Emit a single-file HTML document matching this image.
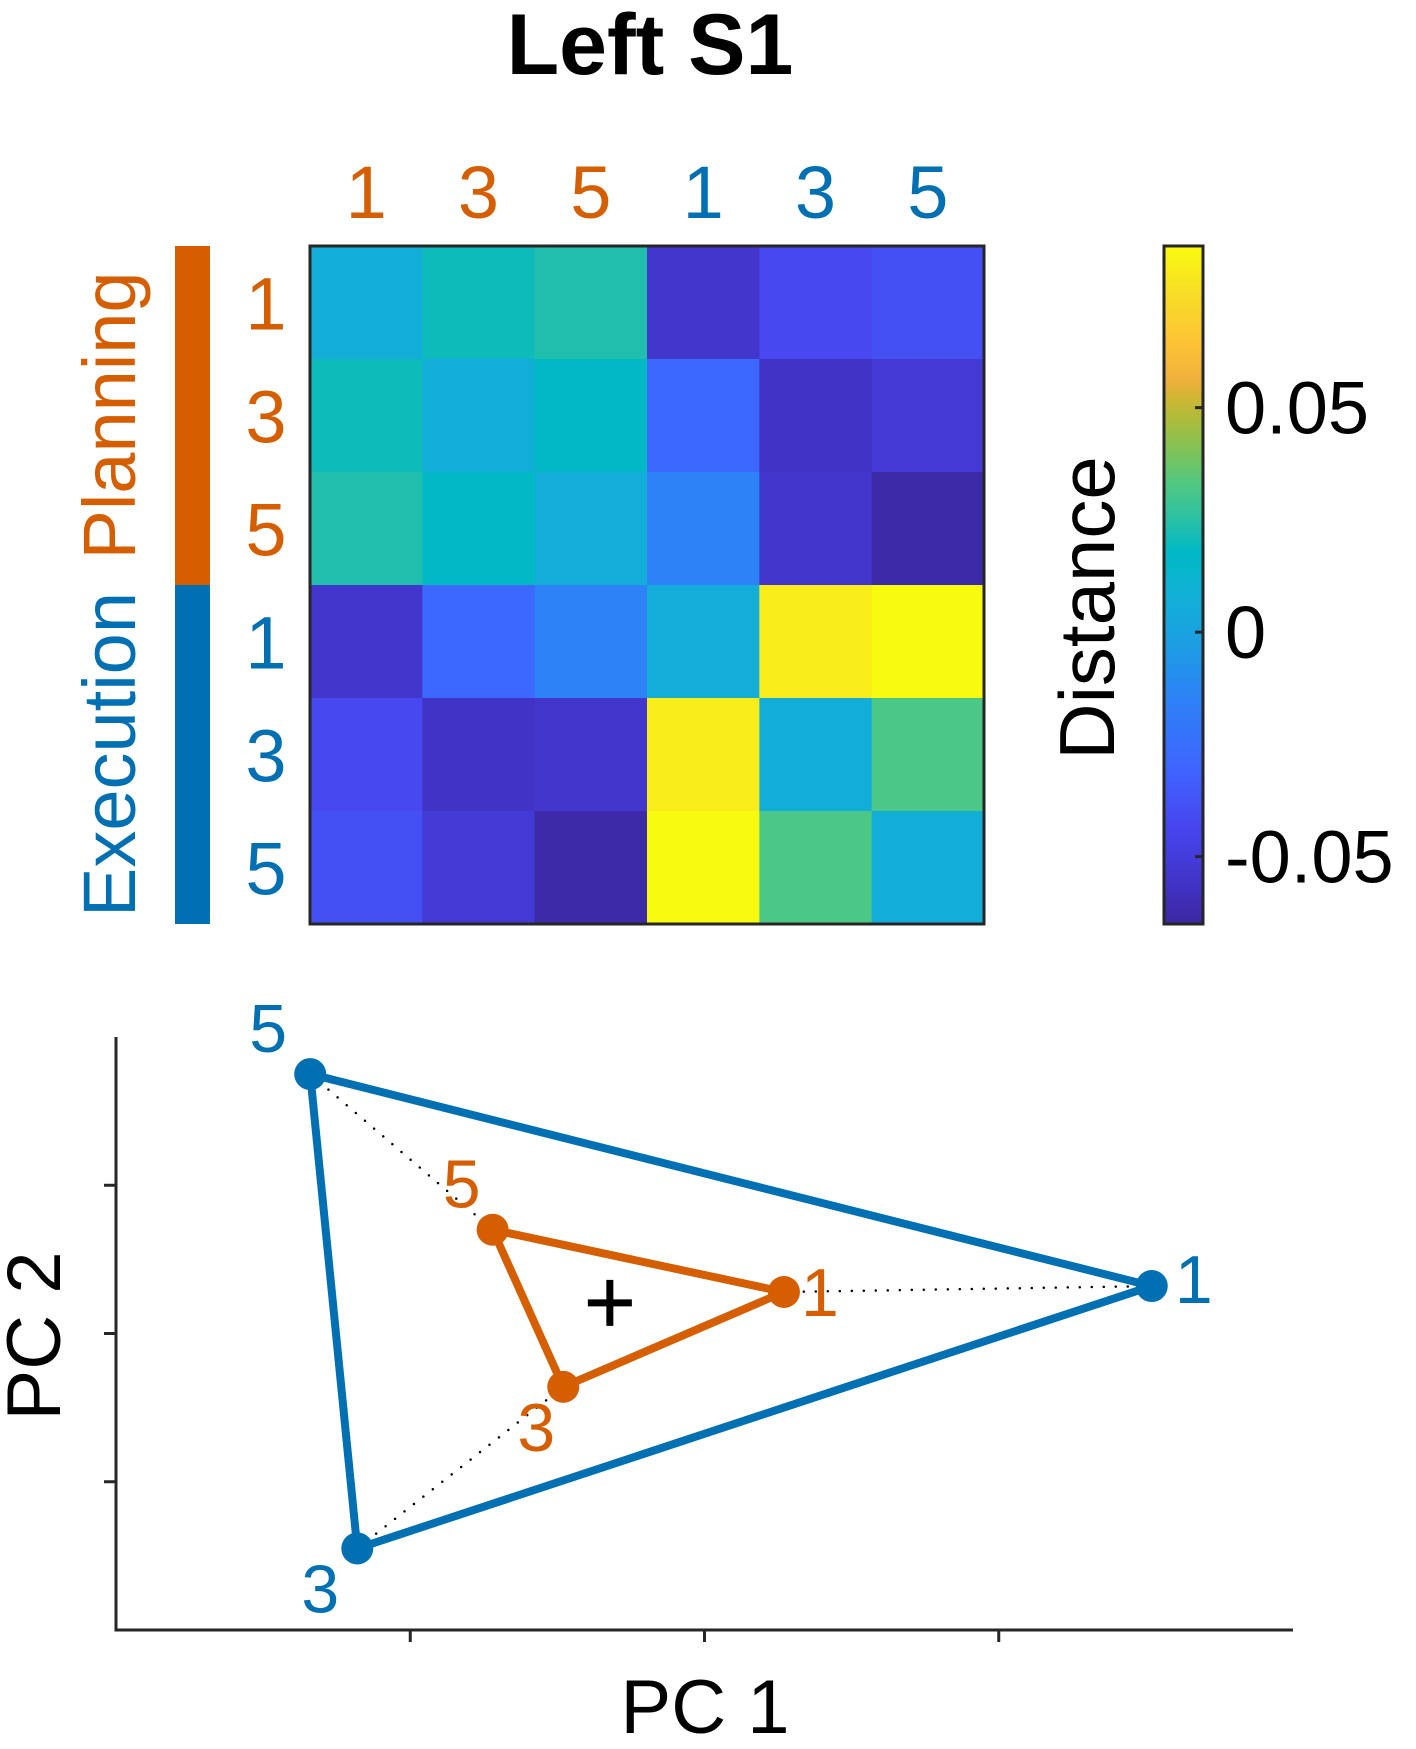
<!DOCTYPE html>
<html><head><meta charset="utf-8">
<style>
html,body{margin:0;padding:0;background:#fff;}
svg{display:block;font-family:"Liberation Sans",sans-serif;}
</style></head>
<body>
<svg id="fig" width="1416" height="1749" viewBox="0 0 1416 1749">
<text x="650" y="74" font-size="86" font-weight="600" text-anchor="middle" fill="#000">Left S1</text>
<g id="heat"></g>
<g id="cbar"></g>
<g id="pca"></g>
</svg>
<script>
// ---------- Heatmap data ----------
const labels = ["1","3","5","1","3","5"];
const groups = ["Planning","Planning","Planning","Execution","Execution","Execution"];
const row1 = [0.007, 0.020, 0.023, -0.054, -0.042, -0.039];
const row2 = [0.020, 0.007, 0.018, -0.029, -0.056, -0.052];
const row3 = [0.023, 0.018, 0.006, -0.015, -0.054, -0.063];
const row4 = [-0.054, -0.029, -0.015, 0.006, 0.081, 0.086];
const row5 = [-0.042, -0.056, -0.054, 0.081, 0.007, 0.032];
const row6 = [-0.039, -0.052, -0.063, 0.086, 0.032, 0.007];
const cbarTicks = [0.05, 0, -0.05];
const cbarTickLabels = ["0.05", "0", "-0.05"];
// ---------- PCA data ----------
const execX = [1.52, -1.18, -1.34];  // conditions 1,3,5
const execY = [0.32, -1.45, 1.75];
const planX = [0.27, -0.48, -0.72];
const planY = [0.28, -0.36, 0.70];
const condLabels = ["1","3","5"];
const pcXTicks = [-1, 0, 1];
const pcYTicks = [-1, 0, 1];

const NS = "http://www.w3.org/2000/svg";
const ORANGE = "#D45E00", BLUE = "#0170B3";
function mk(tag, attrs, parent){const e=document.createElementNS(NS,tag);for(const k in attrs)e.setAttribute(k,attrs[k]);parent.appendChild(e);return e;}

const cmin=-0.065, cmax=0.086;
const cstops=[[-0.065,[60,40,160]],[-0.058,[64,48,190]],[-0.050,[68,60,220]],[-0.042,[71,72,240]],[-0.030,[62,102,255]],[-0.015,[45,130,245]],[0.0,[25,163,224]],[0.008,[18,176,214]],[0.018,[0,185,197]],[0.024,[38,192,168]],[0.032,[75,200,135]],[0.040,[125,195,90]],[0.050,[190,185,50]],[0.056,[240,175,60]],[0.064,[254,195,55]],[0.075,[248,220,40]],[0.086,[249,251,14]]];
function cmap(v){
  if(v<=cstops[0][0])return `rgb(${cstops[0][1]})`;
  for(let i=1;i<cstops.length;i++){
    if(v<=cstops[i][0]){const a=cstops[i-1],b=cstops[i];const t=(v-a[0])/(b[0]-a[0]);
      const c=a[1].map((x,j)=>Math.round(x+(b[1][j]-x)*t));return `rgb(${c})`;}
  }
  return `rgb(${cstops[cstops.length-1][1]})`;
}

const H=document.getElementById("heat");
const rows=[row1,row2,row3,row4,row5,row6];
const hx0=310,hy0=246,hx1=984,hy1=924;
const n=labels.length;
const cw=(hx1-hx0)/n, ch=(hy1-hy0)/n;
const col=i=>groups[i]==="Planning"?ORANGE:BLUE;
rows.forEach((r,i)=>r.forEach((v,j)=>{
  const c=mk("rect",{x:hx0+j*cw,y:hy0+i*ch,width:cw+0.6,height:ch+0.6,fill:cmap(v)},H);
  
  
}));
const fr=mk("rect",{x:hx0,y:hy0,width:hx1-hx0,height:hy1-hy0,fill:"none",stroke:"#262626","stroke-width":3},H);


labels.forEach((l,i)=>{
  const t=mk("text",{x:hx0+(i+0.5)*cw,y:218,"font-size":74,"text-anchor":"middle",fill:col(i)},H);t.textContent=l;
  
  
  const t2=mk("text",{x:266,y:hy0+(i+0.5)*ch+27,"font-size":74,"text-anchor":"middle",fill:col(i)},H);t2.textContent=l;
  
  
});
const nP=groups.filter(g=>g==="Planning").length;
const b1=mk("rect",{x:175,y:hy0,width:35,height:nP*ch,fill:ORANGE},H);


const b2=mk("rect",{x:175,y:hy0+nP*ch,width:35,height:(n-nP)*ch,fill:BLUE},H);


const gp=mk("text",{x:0,y:0,"font-size":74,"text-anchor":"middle",fill:ORANGE,transform:`translate(135,${hy0+nP*ch/2}) rotate(-90)`},H);gp.textContent="Planning";


const ge=mk("text",{x:0,y:0,"font-size":74,"text-anchor":"middle",fill:BLUE,transform:`translate(135,${hy0+nP*ch+(n-nP)*ch/2}) rotate(-90)`},H);ge.textContent="Execution";



const C=document.getElementById("cbar");
const cx0=1164,cx1=1203,cy0=246,cy1=924;
const cy=v=>cy1-(v-cmin)/(cmax-cmin)*(cy1-cy0);
const defs=mk("defs",{},C);
const lg=mk("linearGradient",{id:"cg",x1:0,y1:1,x2:0,y2:0},defs);
for(let k=0;k<=40;k++){const v=cmin+(cmax-cmin)*k/40;mk("stop",{offset:k/40,"stop-color":cmap(v)},lg);}
const cr=mk("rect",{x:cx0,y:cy0,width:cx1-cx0,height:cy1-cy0,fill:"url(#cg)",stroke:"#262626","stroke-width":3},C);


cbarTicks.forEach((v,i)=>{
  const y=cy(v);
  const tk=mk("line",{x1:cx1-8,x2:cx1,y1:y,y2:y,stroke:"#262626","stroke-width":3},C);
  
  
  const t=mk("text",{x:1225,y:y+26,"font-size":74,fill:"#000"},C);t.textContent=cbarTickLabels[i];
  
  
});
const dl=mk("text",{x:0,y:0,"font-size":78,"text-anchor":"middle",fill:"#000",transform:"translate(1114,608) rotate(-90)"},C);dl.textContent="Distance";



const P=document.getElementById("pca");
const ax0=116,ax1=1293,ay0=1037,ay1=1630;
const xlim=[-2,2],ylim=[-2,2];
const sx=v=>ax0+(v-xlim[0])/(xlim[1]-xlim[0])*(ax1-ax0);
const sy=v=>ay1-(v-ylim[0])/(ylim[1]-ylim[0])*(ay1-ay0);
const axl=mk("path",{d:`M${ax0},${ay0} V${ay1} H${ax1}`,fill:"none",stroke:"#262626","stroke-width":3},P);


pcXTicks.forEach(v=>{const l=mk("line",{x1:sx(v),x2:sx(v),y1:ay1,y2:ay1+12,stroke:"#262626","stroke-width":3},P);
  
  });
pcYTicks.forEach(v=>{const l=mk("line",{x1:ax0-12,x2:ax0,y1:sy(v),y2:sy(v),stroke:"#262626","stroke-width":3},P);
  
  });
const xl=mk("text",{x:705,y:1733,"font-size":76,"text-anchor":"middle",fill:"#000"},P);xl.textContent="PC 1";


const yl=mk("text",{x:0,y:0,"font-size":76,"text-anchor":"middle",fill:"#000",transform:"translate(60,1336) rotate(-90)"},P);yl.textContent="PC 2";


execX.forEach((x,i)=>{
  const l=mk("line",{x1:sx(x),y1:sy(execY[i]),x2:sx(planX[i]),y2:sy(planY[i]),stroke:"#000","stroke-width":2.5,"stroke-dasharray":"0 12","stroke-linecap":"round"},P);
  
  
});
function tri(X,Y,c,name){
  const pts=X.map((x,i)=>`${sx(x)},${sy(Y[i])}`).join(" ");
  const pg=mk("polygon",{points:pts,fill:"none",stroke:c,"stroke-width":8,"stroke-linejoin":"round"},P);
  
  
  X.forEach((x,i)=>{const m=mk("circle",{cx:sx(x),cy:sy(Y[i]),r:16,fill:c},P);
    
    });
}
tri(execX,execY,BLUE,"execution");
tri(planX,planY,ORANGE,"planning");
const execOff=[[42,17],[-37,64],[-42,-22]];
const planOff=[[36,24],[-27,64],[-31,-22]];
condLabels.forEach((l,i)=>{
  let t=mk("text",{x:sx(execX[i])+execOff[i][0],y:sy(execY[i])+execOff[i][1],"font-size":68,"text-anchor":"middle",fill:BLUE},P);t.textContent=l;
  
  
  t=mk("text",{x:sx(planX[i])+planOff[i][0],y:sy(planY[i])+planOff[i][1],"font-size":68,"text-anchor":"middle",fill:ORANGE},P);t.textContent=l;
  
  
});
const mx=[...execX,...planX].reduce((a,b)=>a+b,0)/6, my=[...execY,...planY].reduce((a,b)=>a+b,0)/6;
const px=sx(mx),py=sy(my);
const plus=mk("path",{d:`M${px-22},${py} H${px+22} M${px},${py-23} V${py+23}`,stroke:"#000","stroke-width":7},P);


</script>
</body></html>
